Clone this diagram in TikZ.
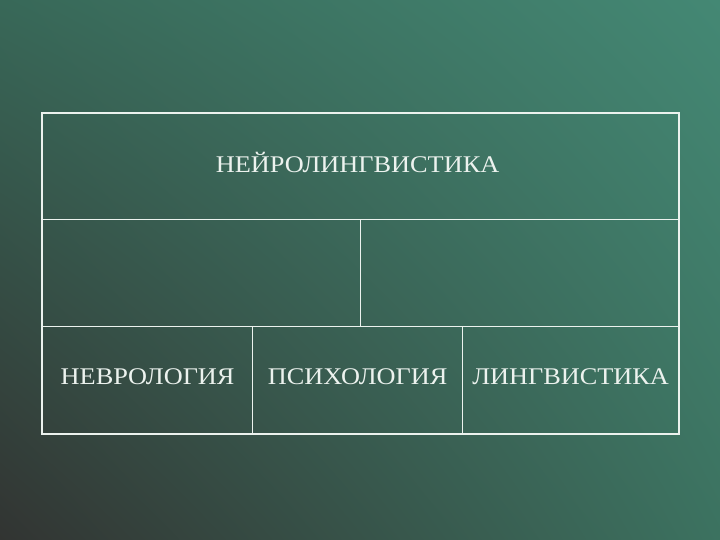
\documentclass[tikz,border=0pt]{standalone}
\usepackage{fontspec}
\setmainfont{Liberation Serif}[FakeStretch=1.1]
\usetikzlibrary{shadings}
\definecolor{bgLL}{RGB}{50,52,50}
\definecolor{bgUR}{RGB}{68,136,116}
\definecolor{bgUL}{RGB}{56,104,88}
\definecolor{bgLR}{RGB}{60,114,96}
\definecolor{ink}{RGB}{236,242,238}
\tikzset{
  cell/.style={draw=ink, line width=1.2bp, anchor=north west, inner sep=0pt},
  txt/.style={inner sep=0pt, text=ink, font=\fontsize{24}{28}\selectfont},
  frame/.style={draw=ink, line width=2bp}
}
\begin{document}
\begin{tikzpicture}[x=1bp,y=-1bp]
\useasboundingbox (0,0) rectangle (720,540);
\shade[lower left=bgLL, upper right=bgUR, upper left=bgUL, lower right=bgLR] (0,0) rectangle (720,540);
\node[cell, minimum width=636bp, minimum height=106bp] (top) at (42,113) {};
\node[cell, minimum width=318bp, minimum height=107bp] (ml) at (42,219) {};
\node[cell, minimum width=318bp, minimum height=107bp] (mr) at (360,219) {};
\node[cell, minimum width=210bp, minimum height=107bp] (b1) at (42,326) {};
\node[cell, minimum width=210bp, minimum height=107bp] (b2) at (252,326) {};
\node[cell, minimum width=216bp, minimum height=107bp] (b3) at (462,326) {};
\draw[frame] (top.north west) rectangle (b3.south east);
\node[txt] (t0) at ([xshift=-3bp,yshift=4bp]top.center) {НЕЙРОЛИНГВИСТИКА};
\node[txt] (t1) at ([yshift=3.5bp]b1.center) {НЕВРОЛОГИЯ};
\node[txt] (t2) at ([yshift=3.5bp]b2.center) {ПСИХОЛОГИЯ};
\node[txt] (t3) at ([yshift=3.5bp]b3.center) {ЛИНГВИСТИКА};
\end{tikzpicture}
\end{document}
